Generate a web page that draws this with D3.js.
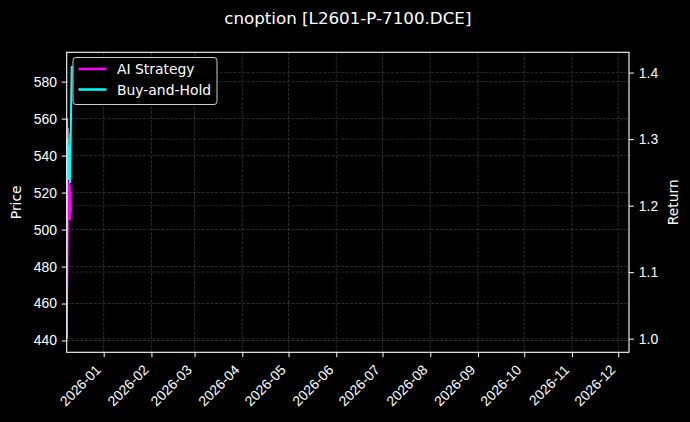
<!DOCTYPE html>
<html>
<head>
<meta charset="utf-8">
<script src="https://cdn.jsdelivr.net/npm/d3@7"></script>
<style>
  body { margin: 0; background: #000; }
  svg { display: block; font-family: "DejaVu Sans", sans-serif; }
</style>
</head>
<body>
<svg id="chart" width="690" height="422"></svg>
<script>
// series (a few intraday points in early Dec 2025)
const priceDates = ["2025-12-08T00:00", "2025-12-08T06:00", "2025-12-08T10:00", "2025-12-08T14:00", "2025-12-08T20:00",
  "2025-12-09T04:00", "2025-12-09T12:00", "2025-12-09T20:00", "2025-12-10T04:00", "2025-12-11T06:00"];
const priceValues = [441, 560, 535, 560, 535, 555, 535, 552, 533, 588.5];

const holdDates = priceDates;
const holdValues = [1.0, 1.30, 1.24, 1.30, 1.24, 1.29, 1.24, 1.28, 1.235, 1.41];

const aiDates = ["2025-12-08T00:00", "2025-12-09T00:00", "2025-12-09T06:00", "2025-12-09T12:00", "2025-12-09T18:00",
  "2025-12-10T00:00", "2025-12-10T06:00", "2025-12-10T12:00", "2025-12-10T18:00"];
const aiValues = [1.0, 1.235, 1.18, 1.235, 1.18, 1.23, 1.18, 1.22, 1.19];

const xLimits = ["2025-12-08T00:00", "2026-12-08T00:00"];
const priceTicks = [440, 460, 480, 500, 520, 540, 560, 580];
const returnTicks = [1.0, 1.1, 1.2, 1.3, 1.4];
const seriesNames = ["AI Strategy", "Buy-and-Hold"];
const seriesColors = ["#ff00ff", "#00ffff"];

const parse = d3.timeParse("%Y-%m-%dT%H:%M");
const toPoints = (dates, values) => dates.map((d, i) => ({ date: parse(d), value: values[i] }));
const price = toPoints(priceDates, priceValues);
const hold = toPoints(holdDates, holdValues);
const ai = toPoints(aiDates, aiValues);

const svg = d3.select("#chart");
const width = 690;
const height = 422;
const margin = { top: 52.3, right: 61, bottom: 69.7, left: 66.7 };
const innerW = width - margin.left - margin.right;
const innerH = height - margin.top - margin.bottom;

svg.append("rect").attr("width", width).attr("height", height).attr("fill", "#000");

const x = d3.scaleTime()
  .domain(xLimits.map(parse))
  .range([margin.left, width - margin.right]);

// matplotlib-style 5% margins around the data
const pad = (lo, hi) => [lo - (hi - lo) * 0.05, hi + (hi - lo) * 0.05];
const yPrice = d3.scaleLinear()
  .domain(pad(d3.min(priceValues), d3.max(priceValues)))
  .range([height - margin.bottom, margin.top]);
const allReturns = holdValues.concat(aiValues);
const yReturn = d3.scaleLinear()
  .domain(pad(d3.min(allReturns), d3.max(allReturns)))
  .range([height - margin.bottom, margin.top]);

const monthTicks = d3.timeMonth.range(d3.timeMonth.ceil(x.domain()[0]), x.domain()[1]);

// grid
const grid = svg.append("g");
grid.selectAll(".gp").data(priceTicks).join("line")
  .attr("x1", margin.left).attr("x2", width - margin.right)
  .attr("y1", (d) => yPrice(d)).attr("y2", (d) => yPrice(d))
  .attr("stroke", "#444").attr("stroke-width", 0.7).attr("stroke-dasharray", "3,1.5");
grid.selectAll(".gr").data(returnTicks).join("line")
  .attr("x1", margin.left).attr("x2", width - margin.right)
  .attr("y1", (d) => yReturn(d)).attr("y2", (d) => yReturn(d))
  .attr("stroke", "#363636").attr("stroke-width", 0.7).attr("stroke-dasharray", "3,1.5");
grid.selectAll(".gx").data(monthTicks).join("line")
  .attr("x1", (d) => x(d)).attr("x2", (d) => x(d))
  .attr("y1", margin.top).attr("y2", height - margin.bottom)
  .attr("stroke", "#444").attr("stroke-width", 0.7).attr("stroke-dasharray", "3,1.5");

// lines
svg.append("clipPath").attr("id", "clip")
  .append("rect").attr("x", margin.left).attr("y", margin.top).attr("width", innerW).attr("height", innerH);

const plot = svg.append("g").attr("clip-path", "url(#clip)");

plot.append("path").datum(price)
  .attr("fill", "none").attr("stroke", "#ffffff").attr("stroke-opacity", 0.3).attr("stroke-width", 1)
  .attr("d", d3.line().x((d) => x(d.date)).y((d) => yPrice(d.value)));

const retLine = d3.line().x((d) => x(d.date)).y((d) => yReturn(d.value));
[ai, hold].forEach((s, i) => {
  plot.append("path").datum(s)
    .attr("fill", "none").attr("stroke", seriesColors[i]).attr("stroke-width", 2)
    .attr("stroke-linejoin", "round")
    .attr("d", retLine);
});

// axes
const styleAxis = (g) => {
  g.select(".domain").remove();
  g.selectAll(".tick line").attr("stroke", "#fff").attr("stroke-width", 1);
  g.selectAll(".tick text").attr("fill", "#fff").style("font-size", "13.9px");
};

svg.append("g")
  .attr("transform", `translate(${margin.left},0)`)
  .call(d3.axisLeft(yPrice).tickValues(priceTicks).tickSize(4.9).tickPadding(4.9).tickFormat(d3.format("d")))
  .call(styleAxis);

svg.append("g")
  .attr("transform", `translate(${width - margin.right},0)`)
  .call(d3.axisRight(yReturn).tickValues(returnTicks).tickSize(4.9).tickPadding(4.9).tickFormat(d3.format(".1f")))
  .call(styleAxis);

const xAxisG = svg.append("g")
  .attr("transform", `translate(0,${height - margin.bottom})`)
  .call(d3.axisBottom(x).tickValues(monthTicks).tickSize(4.9).tickFormat(d3.timeFormat("%Y-%m")))
  .call(styleAxis);
xAxisG.selectAll(".tick text")
  .attr("text-anchor", "end")
  .attr("dominant-baseline", "middle")
  .attr("dy", null)
  .attr("y", 0)
  .attr("transform", "translate(-5,16) rotate(-45)");

// spines
svg.append("rect")
  .attr("x", margin.left).attr("y", margin.top).attr("width", innerW).attr("height", innerH)
  .attr("fill", "none").attr("stroke", "#fff").attr("stroke-width", 1.1);

// labels
svg.append("text")
  .attr("x", margin.left + innerW / 2).attr("y", 24)
  .attr("text-anchor", "middle").attr("fill", "#fff").style("font-size", "16.7px")
  .text("cnoption [L2601-P-7100.DCE]");

svg.append("text")
  .attr("transform", `translate(21,${margin.top + innerH / 2}) rotate(-90)`)
  .attr("text-anchor", "middle").attr("fill", "#fff").style("font-size", "13.9px")
  .text("Price");

svg.append("text")
  .attr("transform", `translate(678,${margin.top + innerH / 2}) rotate(-90)`)
  .attr("text-anchor", "middle").attr("fill", "#fff").style("font-size", "13.9px")
  .text("Return");

// legend
const legend = svg.append("g").attr("transform", "translate(73,57.5)");
legend.append("rect")
  .attr("width", 144).attr("height", 47).attr("rx", 3)
  .attr("fill", "#000").attr("fill-opacity", 0.8)
  .attr("stroke", "#ccc").attr("stroke-width", 1);
seriesNames.forEach((name, i) => {
  const row = legend.append("g").attr("transform", `translate(0,${11.5 + i * 20.5})`);
  row.append("line").attr("x1", 5.5).attr("x2", 33.5).attr("y1", 0).attr("y2", 0)
    .attr("stroke", seriesColors[i]).attr("stroke-width", 2.5);
  row.append("text").attr("x", 44).attr("y", 5)
    .attr("fill", "#fff").style("font-size", "13.9px").text(name);
});
</script>
</body>
</html>
